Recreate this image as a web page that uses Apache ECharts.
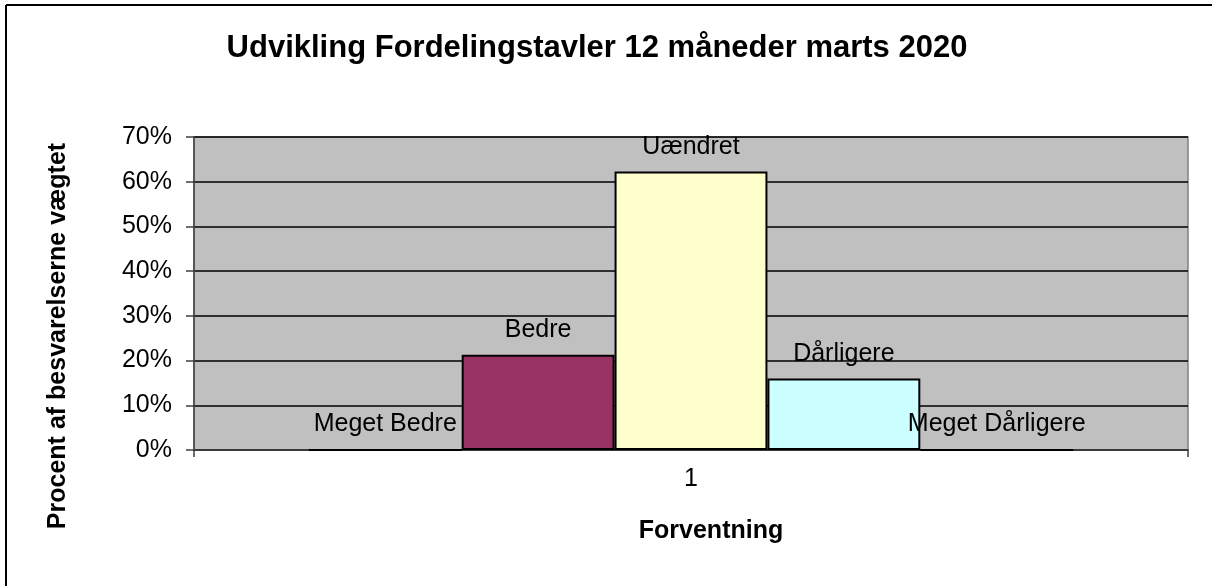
<!DOCTYPE html>
<html>
<head>
<meta charset="utf-8">
<script src="https://cdn.jsdelivr.net/npm/echarts@6/dist/echarts.min.js"></script>
<style>html,body{margin:0;padding:0;background:#fff}#c{width:1212px;height:586px}</style>
</head>
<body>
<div id="c"></div>
<script>
var categories = ['1'];
var seriesNames = ['Meget Bedre', 'Bedre', 'Uændret', 'Dårligere', 'Meget Dårligere'];
var seriesValues = [[0], [21.3], [62.3], [16.0], [0]];
var seriesColors = ['#9999FF', '#993366', '#FFFFCC', '#CCFFFF', '#660066'];
var yTicks = [0, 10, 20, 30, 40, 50, 60, 70];
var titleText = 'Udvikling Fordelingstavler 12 måneder marts 2020';
var yAxisName = 'Procent af besvarelserne vægtet';
var xAxisName = 'Forventning';

var FONT = "'Liberation Sans', Arial, sans-serif";
var chart = echarts.init(document.getElementById('c'), null, {renderer: 'canvas'});

var series = seriesNames.map(function (name, i) {
  return {
    name: name,
    type: 'bar',
    data: seriesValues[i],
    barGap: '0%',
    barCategoryGap: '23.1%',
    itemStyle: {color: seriesColors[i], borderColor: '#000', borderWidth: 2},
    label: {
      show: true, position: 'top', distance: 12,
      formatter: function () { return name; },
      color: '#000', fontFamily: FONT, fontSize: 25
    },
    emphasis: {disabled: true},
    animation: false
  };
});

chart.setOption({
  animation: false,
  grid: {left: 194, top: 137, right: 24, bottom: 136, show: true,
         backgroundColor: '#C0C0C0', borderColor: '#808080', borderWidth: 1.5},
  xAxis: {
    type: 'category', data: categories,
    axisLine: {show: true, lineStyle: {color: '#404040', width: 1.5}},
    axisTick: {show: true, length: 7, lineStyle: {color: '#404040', width: 1.5}},
    axisLabel: {color: '#000', fontFamily: FONT, fontSize: 25, margin: 17},
    splitLine: {show: false}
  },
  yAxis: {
    type: 'value', min: 0, max: 70, interval: 10,
    axisLine: {show: true, lineStyle: {color: '#404040', width: 1.5}},
    axisTick: {show: true, length: 8, inside: false, lineStyle: {color: '#404040', width: 1.5}},
    axisLabel: {color: '#000', fontFamily: FONT, fontSize: 25, margin: 22,
      formatter: function (v) { return yTicks.indexOf(v) >= 0 ? v + '%' : ''; }},
    splitLine: {show: true, lineStyle: {color: '#000', width: 1.5}}
  },
  graphic: [
    {type: 'line', shape: {x1: 6, y1: 5, x2: 1212, y2: 5}, style: {stroke: '#000', lineWidth: 2}},
    {type: 'line', shape: {x1: 6, y1: 5, x2: 6, y2: 586}, style: {stroke: '#000', lineWidth: 2}},
    {type: 'text', x: 597, y: 48, style: {text: titleText, fill: '#000', font: 'bold 31px ' + FONT,
      textAlign: 'center', textVerticalAlign: 'middle'}},
    {type: 'text', x: 711, y: 531, style: {text: xAxisName, fill: '#000', font: 'bold 25px ' + FONT,
      textAlign: 'center', textVerticalAlign: 'middle'}},
    {type: 'text', x: 58, y: 336, rotation: Math.PI / 2, style: {text: yAxisName, fill: '#000',
      font: 'bold 25px ' + FONT, textAlign: 'center', textVerticalAlign: 'middle'}}
  ],
  series: series
});
</script>
</body>
</html>
